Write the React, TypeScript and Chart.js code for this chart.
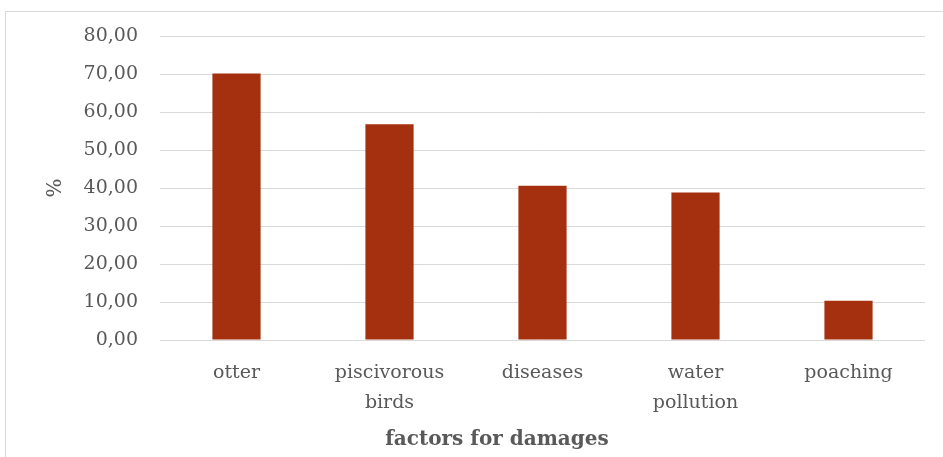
import React, { useEffect, useRef } from "react";
import { Chart, registerables } from "chart.js";

Chart.register(...registerables);

const categories: (string | string[])[] = [
  "otter",
  ["piscivorous", "birds"],
  "diseases",
  ["water", "pollution"],
  "poaching",
];
const damageShare: number[] = [70.1, 56.8, 40.6, 38.8, 10.3];
const yTicks: number[] = [0, 10, 20, 30, 40, 50, 60, 70, 80];
const xTitle = "factors for damages";

const FONT = "'DejaVu Serif', 'Liberation Serif', serif";
const TEXT = "#595959";

// Axis title under the category labels, centred a little left of the plot middle
const xTitlePlugin = {
  id: "xTitle",
  afterDraw(chart: any) {
    const { ctx, chartArea } = chart;
    ctx.save();
    ctx.font = `bold 20px ${FONT}`;
    ctx.fillStyle = TEXT;
    ctx.textAlign = "center";
    ctx.textBaseline = "middle";
    ctx.fillText(xTitle, chartArea.left + 337, chartArea.bottom + 100);
    ctx.restore();
  },
};

export default function App() {
  const ref = useRef<HTMLCanvasElement | null>(null);

  useEffect(() => {
    if (!ref.current) return;
    const chart = new Chart(ref.current, {
      type: "bar",
      data: {
        labels: categories,
        datasets: [
          {
            data: damageShare,
            backgroundColor: "#A5300F",
            borderWidth: 0,
            categoryPercentage: 1,
            barPercentage: 0.315,
          },
        ],
      },
      plugins: [xTitlePlugin],
      options: {
        animation: false,
        responsive: false,
        layout: { padding: { top: 36, left: 44, right: 18, bottom: 2 } },
        plugins: { legend: { display: false }, tooltip: { enabled: false } },
        scales: {
          x: {
            grid: { display: false },
            border: { display: false },
            ticks: {
              color: TEXT,
              font: { family: FONT, size: 19, lineHeight: 1.58 },
              padding: 10,
              maxRotation: 0,
              autoSkip: false,
            },
            afterFit: (s: any) => {
              s.height = 115;
            },
          },
          y: {
            min: 0,
            max: 80,
            afterBuildTicks: (s: any) => {
              s.ticks = yTicks.map((v) => ({ value: v }));
            },
            grid: { color: "#d9d9d9", lineWidth: 1, drawTicks: false },
            border: { display: false },
            ticks: {
              color: TEXT,
              font: { family: FONT, size: 19 },
              padding: 22,
              callback: (v: any) => Number(v).toFixed(2).replace(".", ","),
            },
            title: {
              display: true,
              text: "%",
              color: TEXT,
              font: { family: FONT, size: 20 },
              padding: { top: 0, bottom: 0 },
            },
            afterFit: (s: any) => {
              s.width = 116;
            },
          },
        },
      },
    });
    return () => chart.destroy();
  }, []);

  return (
    <div
      style={{
        position: "fixed",
        left: 0,
        top: 0,
        width: 943,
        height: 457,
        background: "#fff",
        overflow: "hidden",
      }}
    >
      <div
        style={{
          position: "absolute",
          left: 5,
          top: 11,
          width: 960,
          height: 480,
          border: "1px solid #d9d9d9",
          boxSizing: "border-box",
        }}
      />
      <canvas
        ref={ref}
        width={943}
        height={457}
        style={{ position: "absolute", left: 0, top: 0 }}
      />
    </div>
  );
}
